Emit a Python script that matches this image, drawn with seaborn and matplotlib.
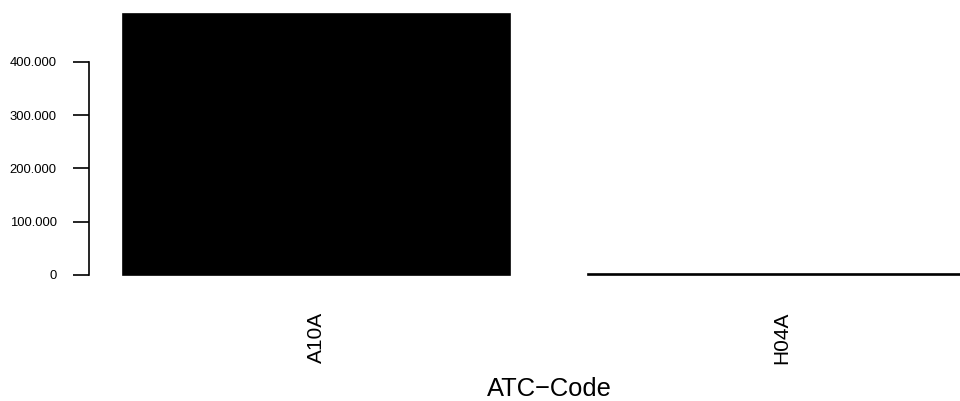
## IMPORTING
import numpy as np
import pandas as pd
import seaborn as sns
import matplotlib
matplotlib.use('Agg')
import matplotlib.pyplot as plt
from matplotlib.ticker import FuncFormatter


## DATA
atc_codes = ['A10A', 'H04A']
counts = [490000, 1500]
y_ticks = [0, 100000, 200000, 300000, 400000]

df = pd.DataFrame({'ATC': atc_codes, 'Count': counts})


## SET STYLE
sns.set_theme(style='white')
plt.rcParams['font.family'] = ['Liberation Sans', 'DejaVu Sans']


## BAR PLOT
fig = plt.figure(figsize=(9.6, 4.01), dpi=100)
ax = fig.add_axes([0.093, 0.2883, 0.958, 0.7027])

sns.barplot(data=df, x='ATC', y='Count', color='black', saturation=1,
            width=1 / 1.2, edgecolor='black', linewidth=1.2, ax=ax)

top = max(counts)
ax.set_xlim(-0.49, 1.49)
ax.set_ylim(-0.04 * top, 1.04 * top)

for side in ['top', 'right', 'bottom']:
    ax.spines[side].set_visible(False)
ax.spines['left'].set_bounds(0, 400000)
ax.spines['left'].set_color('black')
ax.spines['left'].set_linewidth(1.2)

ax.set_yticks(y_ticks)
ax.yaxis.set_major_formatter(FuncFormatter(lambda v, p: f'{int(v):,}'.replace(',', '.')))
ax.tick_params(axis='y', length=11.5, width=1.2, pad=12, labelsize=9.4,
               color='black', labelcolor='black', left=True)
ax.tick_params(axis='x', length=0, pad=19, labelsize=15, labelrotation=90,
               labelcolor='black')

ax.set_ylabel('')
ax.set_xlabel('ATC\u2212Code', fontsize=18.4, color='black')
ax.xaxis.set_label_coords(0.5, -0.326)

fig.savefig('out.png', dpi=100)
